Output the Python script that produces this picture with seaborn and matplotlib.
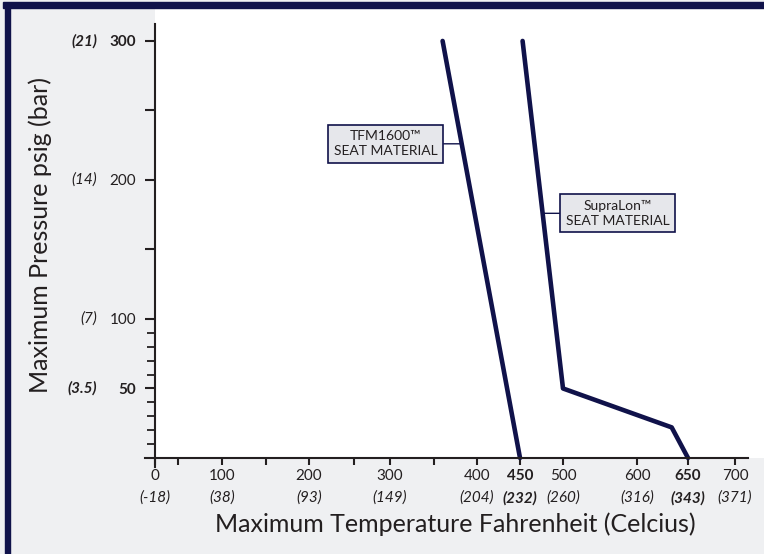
import numpy as np
import matplotlib
matplotlib.use('Agg')
import matplotlib.pyplot as plt
from matplotlib.patches import Rectangle
import pandas as pd
import seaborn as sns

sns.set_theme(style='white')
plt.rcParams['font.family'] = ['Lato', 'DejaVu Sans']

# pressure / temperature curves
tfm_temp_f = [360, 450]
tfm_psig = [300, 0]
supra_temp_f = [453, 500, 634, 650]
supra_psig = [300, 50, 22, 0]

# x axis labels
x_ticks = [0, 100, 200, 300, 400, 450, 500, 600, 650, 700]
x_celsius = ['(-18)', '(38)', '(93)', '(149)', '(204)', '(232)', '(260)', '(316)', '(343)', '(371)']
x_bold = [450, 650]
x_minor = [50, 150, 250, 350]

# y axis labels
y_labeled = [50, 100, 200, 300]
y_bar = ['(3.5)', '(7)', '(14)', '(21)']
y_bold = [50, 300]
y_unlabeled = [150, 250]
y_minor = [10, 20, 30, 40, 60, 70, 80, 90]

navy = '#10124a'
ink = '#231f20'

# the temperature axis in the original is not evenly spaced -> piecewise scale
scale_vals = [-15, 0, 50, 100, 150, 200, 250, 300, 350, 400, 450, 500, 600, 650, 700, 731]
scale_px = [145, 155, 178, 222, 266, 309, 354, 390, 434, 477, 520, 563, 637, 688, 735, 764]

def fwd(v):
    return np.interp(v, scale_vals, scale_px)

def inv(p):
    return np.interp(p, scale_px, scale_vals)

def x_on_line(temps, psigs, y):
    return float(inv(np.interp(y, psigs[::-1], fwd(np.array(temps[::-1])))))

fig = plt.figure(figsize=(7.64, 5.54), dpi=100, facecolor='#eff0f2')
ax = fig.add_axes([145 / 764, 87 / 554, 619 / 764, 459 / 554])
ax.set_facecolor('none')
ax.set_xscale('function', functions=(fwd, inv))
ax.set_xlim(-15, 731)
ax.set_ylim(-6.5, 323.7)

ax.add_patch(Rectangle((0, 0), 731, 323.7, facecolor='white', edgecolor='none', zorder=0))

tfm_df = pd.DataFrame({'temp': tfm_temp_f, 'psig': tfm_psig})
supra_df = pd.DataFrame({'temp': supra_temp_f, 'psig': supra_psig})
sns.lineplot(data=tfm_df, x='temp', y='psig', sort=False, estimator=None,
             color=navy, linewidth=3.3, ax=ax)
sns.lineplot(data=supra_df, x='temp', y='psig', sort=False, estimator=None,
             color=navy, linewidth=3.3, ax=ax)

# spines
for s in ['top', 'right']:
    ax.spines[s].set_visible(False)
ax.spines['left'].set_position(('data', 0))
ax.spines['left'].set_bounds(-6.5, 312)
ax.spines['bottom'].set_position(('data', 0))
ax.spines['bottom'].set_bounds(-15, 714)
for s in ['left', 'bottom']:
    ax.spines[s].set_color(ink)
    ax.spines[s].set_linewidth(1.5)

# x ticks
ax.set_xticks(x_ticks)
ax.set_xticklabels([str(v) for v in x_ticks])
ax.set_xticks(x_minor, minor=True)
ax.tick_params(axis='x', which='both', direction='out', length=5, width=1.5,
               color=ink, pad=3, labelsize=11, labelcolor=ink, bottom=True)
for lab, v in zip(ax.get_xticklabels(), x_ticks):
    if v in x_bold:
        lab.set_fontweight('bold')
for v, c in zip(x_ticks, x_celsius):
    ax.annotate(c, xy=(v, 0), xytext=(0, -40), textcoords='offset pixels',
                ha='center', va='center', style='italic', fontsize=11, color=ink,
                fontweight='bold' if v in x_bold else 'normal')

# y ticks
y_major = sorted(y_labeled + y_unlabeled)
ax.set_yticks(y_major)
ax.set_yticklabels([str(v) if v in y_labeled else '' for v in y_major])
ax.set_yticks(y_minor, minor=True)
ax.tick_params(axis='y', which='major', direction='out', length=7.2, width=1.5,
               color=ink, pad=6.5, labelsize=11, labelcolor=ink, left=True)
ax.tick_params(axis='y', which='minor', direction='out', length=5.8, width=1.3,
               color=ink, left=True)
for lab, v in zip(ax.get_yticklabels(), y_major):
    if v in y_bold:
        lab.set_fontweight('bold')
for v, b in zip(y_labeled, y_bar):
    ax.annotate(b, xy=(0, v), xytext=(-58, 0), textcoords='offset pixels',
                ha='right', va='center', style='italic', fontsize=11, color=ink,
                fontweight='bold' if v in y_bold else 'normal')

# callout boxes
box_kw = dict(textcoords='offset pixels', ha='center', va='center', fontsize=10,
              color=ink, linespacing=1.3,
              bbox=dict(boxstyle='square,pad=0.4', fc='#e6e7eb', ec=navy, lw=1.2),
              arrowprops=dict(arrowstyle='-', color=navy, lw=1, shrinkA=0, shrinkB=0))
ax.annotate('TFM1600™\nSEAT MATERIAL', xy=(x_on_line(tfm_temp_f, tfm_psig, 226), 226),
            xytext=(-76, 0), **box_kw)
ax.annotate('SupraLon™\nSEAT MATERIAL', xy=(x_on_line(supra_temp_f, supra_psig, 176), 176),
            xytext=(75, 0), **box_kw)

ax.set_xlabel('Maximum Temperature Fahrenheit (Celcius)', fontsize=18, color=ink)
ax.set_ylabel('Maximum Pressure psig (bar)', fontsize=18, color=ink)
ax.xaxis.set_label_coords(0.5008, -0.124)
ax.yaxis.set_label_coords(-0.170, 0.505)
ax.xaxis.label.set_va('center')
ax.yaxis.label.set_va('center')

# frame bars
fig.add_artist(Rectangle((3 / 764, 1 - 7.5 / 554), 1, 5 / 554,
                         transform=fig.transFigure, color=navy))
fig.add_artist(Rectangle((5 / 764, 0), 5 / 764, 1 - 3 / 554,
                         transform=fig.transFigure, color=navy))

fig.savefig('out.png', dpi=100, facecolor=fig.get_facecolor())
